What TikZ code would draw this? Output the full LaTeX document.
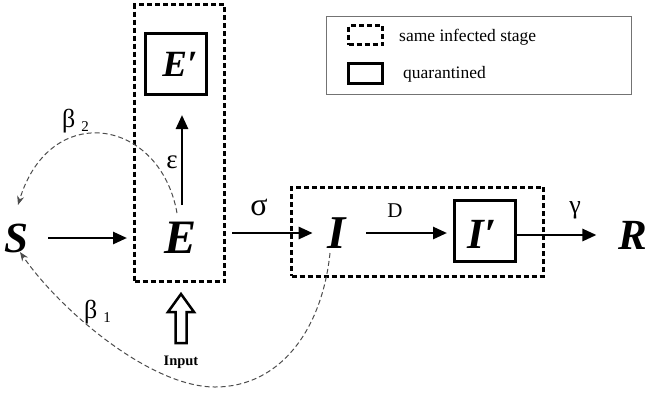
\documentclass[tikz,border=0pt]{standalone}
\usepackage{fontspec}
\setmainfont{Liberation Serif}
\usetikzlibrary{arrows.meta,calc}
\begin{document}
\begin{tikzpicture}[x=1pt,y=-1pt,
 big/.style={font=\fontsize{44}{44}\selectfont\bfseries\itshape, inner sep=0pt},
 qbox/.style={draw, line width=3pt, minimum width=61pt, minimum height=61pt, inner sep=0pt},
 stagebox/.style={draw, line width=3pt, dash pattern=on 5pt off 3pt, inner sep=0pt},
 arr/.style={line width=2.7pt, -{Triangle[length=14pt,width=12pt]}},
 infl/.style={line width=1pt, draw=black!70, dash pattern=on 5pt off 3pt, -{Stealth[length=9pt,width=7pt]}},
 lbl/.style={inner sep=0pt},
 legtext/.style={font=\fontsize{17.5}{17.5}\selectfont, inner sep=0pt, anchor=west},
]
\useasboundingbox (0,0) rectangle (647,397);

% legend
\node[draw=black!55, line width=1.2pt, minimum width=305pt, minimum height=78pt, inner sep=0pt] (legend) at (479,55.5) {};
\node[stagebox, minimum width=34pt, minimum height=19pt] (legdash) at (365.5,35) {};
\node[draw, line width=3pt, minimum width=34pt, minimum height=20pt, inner sep=0pt] (legsolid) at (365.5,73.5) {};
\node[legtext] (legdashtxt) at (399,37) {same infected stage};
\node[legtext] (legsolidtxt) at (403,74) {quarantined};

% stage boxes
\node[stagebox, minimum width=90pt, minimum height=277pt] (Ebox) at (179.5,143) {};
\node[stagebox, minimum width=252pt, minimum height=89pt] (Ibox) at (417.5,231.5) {};

% quarantine boxes
\node[qbox] (Ep) at (176,64) {};
\node[big, font=\fontsize{37}{37}\selectfont\bfseries\itshape] (Eptxt) at (180,64) {E′};
\node[qbox] (Ip) at (485,231) {};
\node[big, font=\fontsize{43}{43}\selectfont\bfseries\itshape] (Iptxt) at (482,234) {I′};

% compartments
\node[big, font=\fontsize{43}{43}\selectfont\bfseries\itshape] (S) at (16,238) {S};
\node[big, font=\fontsize{48}{48}\selectfont\bfseries\itshape] (E) at (181,238) {E};
\node[big, font=\fontsize{47}{47}\selectfont\bfseries\itshape] (I) at (337,233) {I};
\node[big, font=\fontsize{43}{43}\selectfont\bfseries\itshape] (R) at (633,235) {R};

% arrows
\draw[arr, shorten <=20pt, shorten >=54pt] (S) -- (S -| E);
\draw[arr, shorten <=33pt, shorten >=19pt] (182,238) coordinate (Etop) -- (Etop |- Ep.south);
\draw[arr, shorten <=6pt, shorten >=15pt] (Ebox.east |- I) -- (I);
\draw[arr, shorten <=20pt, shorten >=6pt] (I) -- (I -| Ip.west);
\draw[arr, shorten >=22pt] (Ip.east |- R) -- (R);

% labels
\node[lbl, font=\fontsize{32}{32}\selectfont] (sigma) at (259,207) {σ};
\node[lbl, font=\fontsize{21}{21}\selectfont] (Dl) at (395,211) {D};
\node[lbl, font=\fontsize{26}{26}\selectfont] (gamma) at (575,210) {γ};
\node[lbl, font=\fontsize{27}{27}\selectfont] (eps) at (172,162) {ε};
\node[lbl, anchor=base west] (b2) at (62,127) {\fontsize{26}{26}\selectfont β\hspace{6pt}\raisebox{-4pt}{\fontsize{15}{15}\selectfont 2}};
\node[lbl, anchor=base west] (b1) at (84,318) {\fontsize{26}{26}\selectfont β\hspace{6pt}\raisebox{-4pt}{\fontsize{15}{15}\selectfont 1}};

% infection curves
\draw[infl] (177,213) coordinate (b2start) .. controls (160,118) and (50,100) .. (18,205);
\draw[infl] (330,253) .. controls (322,330) and (280,387) .. (215,387) .. controls (150,387) and (60,310) .. (20,252);

% input
\node[lbl, font=\fontsize{14.5}{14.5}\selectfont\bfseries] (input) at (181,362) {Input};
\draw[line width=2.5pt, line join=miter] (175.5,343) -- (175.5,312) -- (168,312) -- (181,294) -- (194,312) -- (186.5,312) -- (186.5,343) -- cycle;
\end{tikzpicture}
\end{document}
